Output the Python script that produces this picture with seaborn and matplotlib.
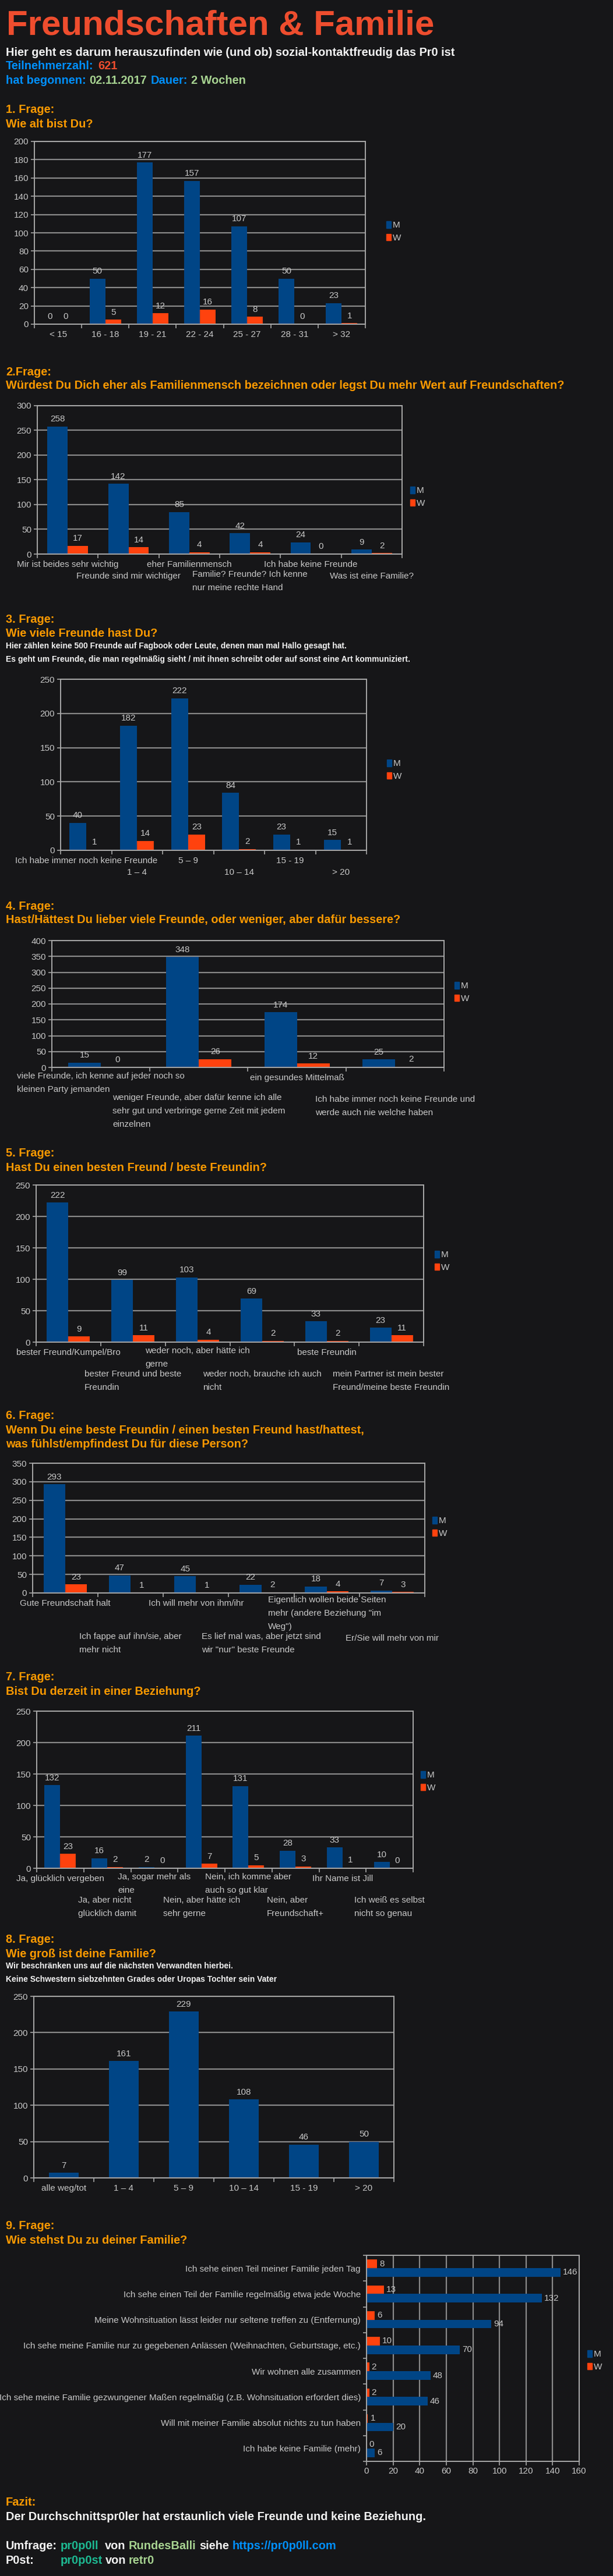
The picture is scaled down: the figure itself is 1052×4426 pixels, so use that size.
import numpy as np
import pandas as pd
import matplotlib
matplotlib.use("Agg")
import matplotlib.pyplot as plt
import matplotlib.patches as mpatches
import matplotlib.transforms as mtransforms
import seaborn as sns

# ── Page & colours ─────────────────────────────────────────────────────────────
W_PX, H_PX, DPI = 1052, 4426, 100
BG       = "#161618"
C_M      = "#004586"
C_W      = "#ff420e"
C_GRID   = "#8a8a8a"
C_AXIS   = "#a8a8a8"
C_TXT    = "#c8c8c8"
C_ORANGE = "#ff9900"
C_RED    = "#ee4d2e"
C_BLUE   = "#008fff"
C_GREEN  = "#a7d391"
C_TEAL   = "#1db992"
C_WHITE  = "#f4f4f4"

FS_TITLE = 43.2
FS_BIG   = 14.4
FS_SMALL = 10
FS_CHART = 11
LINE_PX  = 20
LINE_LS  = 1.8

# ── Data ───────────────────────────────────────────────────────────────────────
Q1_CATS = ["< 15", "16 - 18", "19 - 21", "22 - 24", "25 - 27", "28 - 31", "> 32"]
Q1_M    = [0, 50, 177, 157, 107, 50, 23]
Q1_W    = [0, 5, 12, 16, 8, 0, 1]

Q2_CATS = ["Mir ist beides sehr wichtig", "Freunde sind mir wichtiger",
           "eher Familienmensch", "Familie? Freunde? Ich kenne\nnur meine rechte Hand",
           "Ich habe keine Freunde", "Was ist eine Familie?"]
Q2_M    = [258, 142, 85, 42, 24, 9]
Q2_W    = [17, 14, 4, 4, 0, 2]

Q3_CATS = ["Ich habe immer noch keine Freunde", "1 – 4", "5 – 9", "10 – 14",
           "15 - 19", "> 20"]
Q3_M    = [40, 182, 222, 84, 23, 15]
Q3_W    = [1, 14, 23, 2, 1, 1]

Q4_CATS = ["viele Freunde, ich kenne auf jeder noch so\nkleinen Party jemanden",
           "weniger Freunde, aber dafür kenne ich alle\nsehr gut und verbringe gerne Zeit mit jedem\neinzelnen",
           "ein gesundes Mittelmaß",
           "Ich habe immer noch keine Freunde und\nwerde auch nie welche haben"]
Q4_M    = [15, 348, 174, 25]
Q4_W    = [0, 26, 12, 2]

Q5_CATS = ["bester Freund/Kumpel/Bro", "bester Freund und beste\nFreundin",
           "weder noch, aber hätte ich\ngerne", "weder noch, brauche ich auch\nnicht",
           "beste Freundin", "mein Partner ist mein bester\nFreund/meine beste Freundin"]
Q5_M    = [222, 99, 103, 69, 33, 23]
Q5_W    = [9, 11, 4, 2, 2, 11]

Q6_CATS = ["Gute Freundschaft halt", "Ich fappe auf ihn/sie, aber\nmehr nicht",
           "Ich will mehr von ihm/ihr", "Es lief mal was, aber jetzt sind\nwir \"nur\" beste Freunde",
           "Eigentlich wollen beide Seiten\nmehr (andere Beziehung \"im\nWeg\")",
           "Er/Sie will mehr von mir"]
Q6_M    = [293, 47, 45, 22, 18, 7]
Q6_W    = [23, 1, 1, 2, 4, 3]

Q7_CATS = ["Ja, glücklich vergeben", "Ja, aber nicht\nglücklich damit",
           "Ja, sogar mehr als\neine", "Nein, aber hätte ich\nsehr gerne",
           "Nein, ich komme aber\nauch so gut klar", "Nein, aber\nFreundschaft+",
           "Ihr Name ist Jill", "Ich weiß es selbst\nnicht so genau"]
Q7_M    = [132, 16, 2, 211, 131, 28, 33, 10]
Q7_W    = [23, 2, 0, 7, 5, 3, 1, 0]

Q8_CATS = ["alle weg/tot", "1 – 4", "5 – 9", "10 – 14", "15 - 19", "> 20"]
Q8_N    = [7, 161, 229, 108, 46, 50]

Q9_CATS = ["Ich sehe einen Teil meiner Familie jeden Tag",
           "Ich sehe einen Teil der Familie regelmäßig etwa jede Woche",
           "Meine Wohnsituation lässt leider nur seltene treffen zu (Entfernung)",
           "Ich sehe meine Familie nur zu gegebenen Anlässen (Weihnachten, Geburtstage, etc.)",
           "Wir wohnen alle zusammen",
           "Ich sehe meine Familie gezwungener Maßen regelmäßig (z.B. Wohnsituation erfordert dies)",
           "Will mit meiner Familie absolut nichts zu tun haben",
           "Ich habe keine Familie (mehr)"]
Q9_M    = [146, 132, 94, 70, 48, 46, 20, 6]
Q9_W    = [8, 13, 6, 10, 2, 2, 1, 0]

# ── Theme ──────────────────────────────────────────────────────────────────────
sns.set_theme(style="ticks", rc={"axes.facecolor": BG, "figure.facecolor": BG,
                                 "savefig.facecolor": BG})
plt.rcParams["font.family"] = ["Liberation Sans", "DejaVu Sans"]

fig = plt.figure(figsize=(W_PX / DPI, H_PX / DPI), dpi=DPI)


def fx(x):
    return x / W_PX


def fy(y):
    return 1 - y / H_PX


def pt(px):
    return px * 72 / DPI


def txt(x, y, s, color=C_WHITE, size=FS_BIG):
    fig.text(fx(x), fy(y), s, color=color, fontsize=size, fontweight="bold",
             ha="left", va="baseline")


def make_axes(l, t, r, b):
    ax = fig.add_axes([fx(l), fy(b), (r - l) / W_PX, (b - t) / H_PX])
    ax.set_facecolor(BG)
    ax.set_axisbelow(True)
    for sp in ax.spines.values():
        sp.set_visible(True)
        sp.set_color(C_AXIS)
        sp.set_linewidth(1.4)
    return ax


def add_legend(ax, lx, ly):
    handles = [mpatches.Patch(color=C_M, label="M"), mpatches.Patch(color=C_W, label="W")]
    ax.legend(handles=handles, loc="upper left", bbox_to_anchor=(fx(lx), fy(ly - 11)),
              bbox_transform=fig.transFigure, frameon=False, fontsize=FS_CHART,
              handlelength=0.5, handleheight=0.8, handletextpad=0.2,
              labelspacing=0.5, borderpad=0, borderaxespad=0, labelcolor=C_TXT)


def cat_labels(ax, cats, axis_y, stagger):
    # LibreOffice-style staggered category labels under the axis
    trans = mtransforms.blended_transform_factory(ax.transData, fig.transFigure)
    base = axis_y + 22
    n1 = max(c.count("\n") + 1 for c in cats[::2])
    for i, c in enumerate(cats):
        first = base + (LINE_PX * n1 if (stagger and i % 2 == 1) else 0)
        last = first + LINE_PX * c.count("\n")
        ax.text(i, fy(last), c, transform=trans, ha="center", va="baseline",
                multialignment="left", color=C_TXT, fontsize=FS_CHART,
                linespacing=LINE_LS)


def style_vertical(ax, n, ymax, ystep):
    ax.set_xlim(-0.5, n - 0.5)
    ax.set_ylim(0, ymax)
    ax.set_yticks(np.arange(0, ymax + 1, ystep))
    ax.yaxis.grid(True, color=C_GRID, lw=1.6)
    ax.xaxis.grid(False)
    ax.set_xticks(np.arange(n + 1) - 0.5, minor=True)
    ax.tick_params(axis="x", which="major", length=0, labelbottom=False)
    ax.tick_params(axis="x", which="minor", length=pt(7), width=1.2, color=C_AXIS)
    ax.tick_params(axis="y", length=pt(6), width=1.2, color=C_AXIS, pad=pt(4),
                   labelcolor=C_TXT, labelsize=FS_CHART)
    ax.set_xlabel("")
    ax.set_ylabel("")
    for cont in ax.containers:
        ax.bar_label(cont, padding=4, color=C_TXT, fontsize=FS_CHART)


def grouped_chart(box, cats, m, w, ymax, ystep, legend_xy, stagger=True):
    l, t, r, b = box
    ax = make_axes(l, t, r, b)
    df = pd.DataFrame({"cat": cats * 2, "n": m + w,
                       "sex": ["M"] * len(cats) + ["W"] * len(cats)})
    sns.barplot(data=df, x="cat", y="n", hue="sex", order=cats, hue_order=["M", "W"],
                palette={"M": C_M, "W": C_W}, width=2 / 3, saturation=1,
                errorbar=None, legend=False, linewidth=0, ax=ax)
    style_vertical(ax, len(cats), ymax, ystep)
    cat_labels(ax, cats, b, stagger)
    add_legend(ax, *legend_xy)
    return ax


# ── Header ─────────────────────────────────────────────────────────────────────
fig.text(fx(11), fy(60), "Freundschaften & Familie", color=C_RED, fontsize=FS_TITLE,
         fontweight="bold", ha="left", va="baseline")
txt(10, 96, "Hier geht es darum herauszufinden wie (und ob) sozial-kontaktfreudig das Pr0 ist")
txt(10, 119, "Teilnehmerzahl:", C_BLUE)
txt(168, 119, "621", C_RED)
txt(10, 144, "hat begonnen:", C_BLUE)
txt(153, 144, "02.11.2017", C_GREEN)
txt(259, 144, "Dauer:", C_BLUE)
txt(328, 144, "2 Wochen", C_GREEN)

# ── Q1 ─────────────────────────────────────────────────────────────────────────
txt(10, 194, "1. Frage:", C_ORANGE)
txt(10, 219, "Wie alt bist Du?", C_ORANGE)
grouped_chart((59, 243, 627, 557), Q1_CATS, Q1_M, Q1_W, 200, 20, (663, 391), stagger=False)

# ── Q2 ─────────────────────────────────────────────────────────────────────────
txt(10, 645, "2.Frage:", C_ORANGE)
txt(10, 668, "Würdest Du Dich eher als Familienmensch bezeichnen oder legst Du mehr Wert auf Freundschaften?", C_ORANGE)
grouped_chart((64, 697, 690, 952), Q2_CATS, Q2_M, Q2_W, 300, 50, (704, 847))

# ── Q3 ─────────────────────────────────────────────────────────────────────────
txt(10, 1070, "3. Frage:", C_ORANGE)
txt(10, 1094, "Wie viele Freunde hast Du?", C_ORANGE)
txt(10, 1114, "Hier zählen keine 500 Freunde auf Fagbook oder Leute, denen man mal Hallo gesagt hat.", size=FS_SMALL)
txt(10, 1137, "Es geht um Freunde, die man regelmäßig sieht / mit ihnen schreibt oder auf sonst eine Art kommuniziert.", size=FS_SMALL)
grouped_chart((104, 1167, 629, 1461), Q3_CATS, Q3_M, Q3_W, 250, 50, (664, 1316))

# ── Q4 ─────────────────────────────────────────────────────────────────────────
txt(10, 1563, "4. Frage:", C_ORANGE)
txt(10, 1586, "Hast/Hättest Du lieber viele Freunde, oder weniger, aber dafür bessere?", C_ORANGE)
grouped_chart((89, 1616, 762, 1834), Q4_CATS, Q4_M, Q4_W, 400, 50, (780, 1698))

# ── Q5 ─────────────────────────────────────────────────────────────────────────
txt(10, 1987, "5. Frage:", C_ORANGE)
txt(10, 2012, "Hast Du einen besten Freund / beste Freundin?", C_ORANGE)
grouped_chart((62, 2036, 727, 2306), Q5_CATS, Q5_M, Q5_W, 250, 50, (746, 2160))

# ── Q6 ─────────────────────────────────────────────────────────────────────────
txt(10, 2438, "6. Frage:", C_ORANGE)
txt(10, 2463, "Wenn Du eine beste Freundin / einen besten Freund hast/hattest,", C_ORANGE)
txt(10, 2487, "was fühlst/empfindest Du für diese Person?", C_ORANGE)
grouped_chart((56, 2514, 729, 2737), Q6_CATS, Q6_M, Q6_W, 350, 50, (742, 2617))

# ── Q7 ─────────────────────────────────────────────────────────────────────────
txt(10, 2887, "7. Frage:", C_ORANGE)
txt(10, 2912, "Bist Du derzeit in einer Beziehung?", C_ORANGE)
grouped_chart((63, 2940, 709, 3210), Q7_CATS, Q7_M, Q7_W, 250, 50, (722, 3054))

# ── Q8 ─────────────────────────────────────────────────────────────────────────
txt(10, 3338, "8. Frage:", C_ORANGE)
txt(10, 3363, "Wie groß ist deine Familie?", C_ORANGE)
txt(10, 3382, "Wir beschränken uns auf die nächsten Verwandten hierbei.", size=FS_SMALL)
txt(10, 3405, "Keine Schwestern siebzehnten Grades oder Uropas Tochter sein Vater", size=FS_SMALL)
ax8 = make_axes(58, 3430, 676, 3742)
df8 = pd.DataFrame({"cat": Q8_CATS, "n": Q8_N})
sns.barplot(data=df8, x="cat", y="n", order=Q8_CATS, color=C_M, width=0.5,
            saturation=1, errorbar=None, linewidth=0, ax=ax8)
style_vertical(ax8, len(Q8_CATS), 250, 50)
cat_labels(ax8, Q8_CATS, 3742, stagger=False)

# ── Q9 ─────────────────────────────────────────────────────────────────────────
txt(10, 3830, "9. Frage:", C_ORANGE)
txt(10, 3855, "Wie stehst Du zu deiner Familie?", C_ORANGE)
ax9 = make_axes(629, 3875, 994, 4229)
df9 = pd.DataFrame({"cat": Q9_CATS * 2, "n": Q9_M + Q9_W,
                    "sex": ["M"] * len(Q9_CATS) + ["W"] * len(Q9_CATS)})
sns.barplot(data=df9, x="n", y="cat", hue="sex", order=Q9_CATS, hue_order=["W", "M"],
            palette={"M": C_M, "W": C_W}, orient="h", width=2 / 3, saturation=1,
            errorbar=None, legend=False, linewidth=0, ax=ax9)
n9 = len(Q9_CATS)
ax9.set_xlim(0, 160)
ax9.set_ylim(n9 - 0.5, -0.5)
ax9.set_xticks(np.arange(0, 161, 20))
ax9.xaxis.grid(True, color=C_GRID, lw=1.6)
ax9.yaxis.grid(False)
ax9.set_yticks(np.arange(n9))
ax9.set_yticklabels(Q9_CATS)
ax9.set_yticks(np.arange(n9 + 1) - 0.5, minor=True)
ax9.tick_params(axis="y", which="major", length=0, pad=pt(10), labelcolor=C_TXT,
                labelsize=FS_CHART)
ax9.tick_params(axis="y", which="minor", length=pt(6), width=1.2, color=C_AXIS)
ax9.tick_params(axis="x", length=pt(7), width=1.2, color=C_AXIS, pad=pt(3),
                labelcolor=C_TXT, labelsize=FS_CHART)
ax9.set_xlabel("")
ax9.set_ylabel("")
for cont in ax9.containers:
    ax9.bar_label(cont, padding=3, color=C_TXT, fontsize=FS_CHART)
add_legend(ax9, 1008, 4049)

# ── Footer ─────────────────────────────────────────────────────────────────────
txt(10, 4305, "Fazit:", C_ORANGE)
txt(10, 4330, "Der Durchschnittspr0ler hat erstaunlich viele Freunde und keine Beziehung.")
txt(10, 4380, "Umfrage:")
txt(104, 4380, "pr0p0ll", C_TEAL)
txt(180, 4380, "von")
txt(221, 4380, "RundesBalli", C_GREEN)
txt(342, 4380, "siehe")
txt(399, 4380, "https://pr0p0ll.com", C_BLUE)
txt(10, 4405, "P0st:")
txt(104, 4405, "pr0p0st", C_TEAL)
txt(181, 4405, "von")
txt(221, 4405, "retr0", C_GREEN)

fig.savefig("out.png", dpi=DPI, facecolor=BG)
